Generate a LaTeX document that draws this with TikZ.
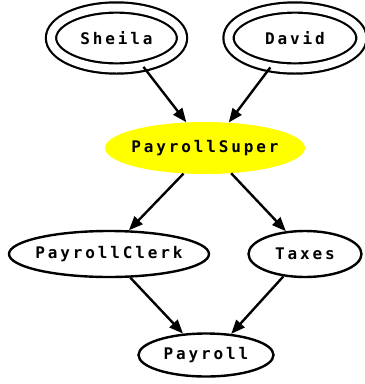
\documentclass[tikz,border=0pt]{standalone}
\usepackage{fontspec}
\usetikzlibrary{shapes.geometric,arrows.meta}
\newfontfamily\lblfont[LetterSpace=18]{DejaVu Sans Mono}
\definecolor{superyellow}{RGB}{255,255,0}
\tikzset{
  base/.style={ellipse,inner sep=0pt,font=\lblfont\bfseries\fontsize{16pt}{18pt}\selectfont},
  plain/.style={base,draw,line width=2.4pt},
  dbl/.style={base,draw,line width=2.2pt,double,double distance=8pt},
  supernode/.style={base,fill=superyellow},
  conn/.style={line width=2.4pt,-{Triangle[length=14pt,width=11pt]}}
}
\newcommand{\lbltext}[1]{\makebox[0pt]{#1}}
\begin{document}
\begin{tikzpicture}[x=1pt,y=-1pt]
\useasboundingbox (0,0) rectangle (365,384);
\node[dbl,minimum width=131pt,minimum height=61pt] (sheila) at (116.5,38) {\lbltext{Sheila}};
\node[dbl,minimum width=133pt,minimum height=61pt] (david) at (295,38) {\lbltext{David}};
\node[supernode,minimum width=200pt,minimum height=52pt] (super) at (205,148) {\lbltext{PayrollSuper}};
\node[plain,minimum width=200pt,minimum height=46pt] (clerk) at (109,254) {\lbltext{PayrollClerk}};
\node[plain,minimum width=113pt,minimum height=46pt] (taxes) at (305,254) {\lbltext{Taxes}};
\node[plain,minimum width=135pt,minimum height=43pt] (payroll) at (206,355) {\lbltext{Payroll}};
\draw[conn] (sheila.-47) -- (super.126);
\draw[conn] (david.230) -- (super.47);
\draw[conn] (super.230) -- (clerk.50);
\draw[conn] (super.-44) -- (taxes.130);
\draw[conn] (clerk.-48) -- (payroll.137);
\draw[conn] (taxes.226) -- (payroll.40);
\end{tikzpicture}
\end{document}
